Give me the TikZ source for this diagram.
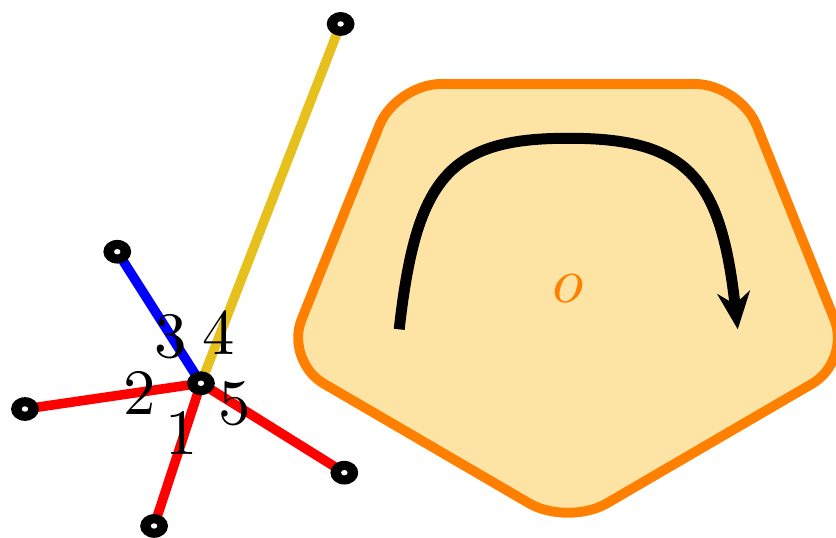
\documentclass[tikz,border=0pt]{standalone}
\usepackage{fix-cm}
\usepackage{amsmath}
\usetikzlibrary{arrows.meta}
\definecolor{edgeyellow}{RGB}{230,192,28}
\definecolor{facefill}{RGB}{254,228,164}

\begin{document}
\begin{tikzpicture}[font=\fontsize{11.5}{13.8}\selectfont]
    \useasboundingbox (0,0) rectangle (5.225,3.3625);
    \coordinate (V) at (1.256,0.967);
    \coordinate (E1) at (0.963,0.075);
    \coordinate (E2) at (0.156,0.806);
    \coordinate (E3) at (0.733,1.789);
    \coordinate (E4) at (2.129,3.2125);
    \coordinate (E5) at (2.152,0.408);
    \coordinate (P1) at (2.475,2.8375);
    \coordinate (P2) at (4.625,2.8375);
    \coordinate (P3) at (5.319,1.106);
    \coordinate (P4) at (3.55,0.075);
    \coordinate (P5) at (1.781,1.106);
    \coordinate (S) at (2.495,1.304);
    \coordinate (T) at (3.553,2.498);
    \coordinate (A) at (4.611,1.304);
    \draw[line width=1.75pt, orange, fill=facefill, rounded corners=0.28cm] (P1) -- (P2) -- (P3) -- (P4) -- (P5) -- cycle;
    \draw[line width=1.95pt, -{Stealth[length=6.6pt, width=5.8pt]}] (S) .. controls (2.6,2.244) and (2.8,2.5) .. (T) .. controls (4.306,2.5) and (4.506,2.244) .. (A);
    \node[text=orange] (o) at (3.552,1.561) {$o$};
    \foreach \e in {E1,E2,E5} {\draw[line width=1.7pt, red] (V) -- (\e);}
    \draw[line width=1.7pt, blue] (V) -- (E3);
    \draw[line width=1.7pt, edgeyellow] (V) -- (E4);
    \foreach \p in {V,E1,E2,E3,E4,E5} {\fill (\p) ellipse (0.087 and 0.074); \fill[white] (\p) ellipse (0.02 and 0.017);}
    \node (n1) at (1.136,0.654) {$1$};
    \node (n2) at (0.875,0.904) {$2$};
    \node (n3) at (1.067,1.258) {$3$};
    \node (n4) at (1.364,1.279) {$4$};
    \node (n5) at (1.469,0.842) {$5$};
\end{tikzpicture}
\end{document}
